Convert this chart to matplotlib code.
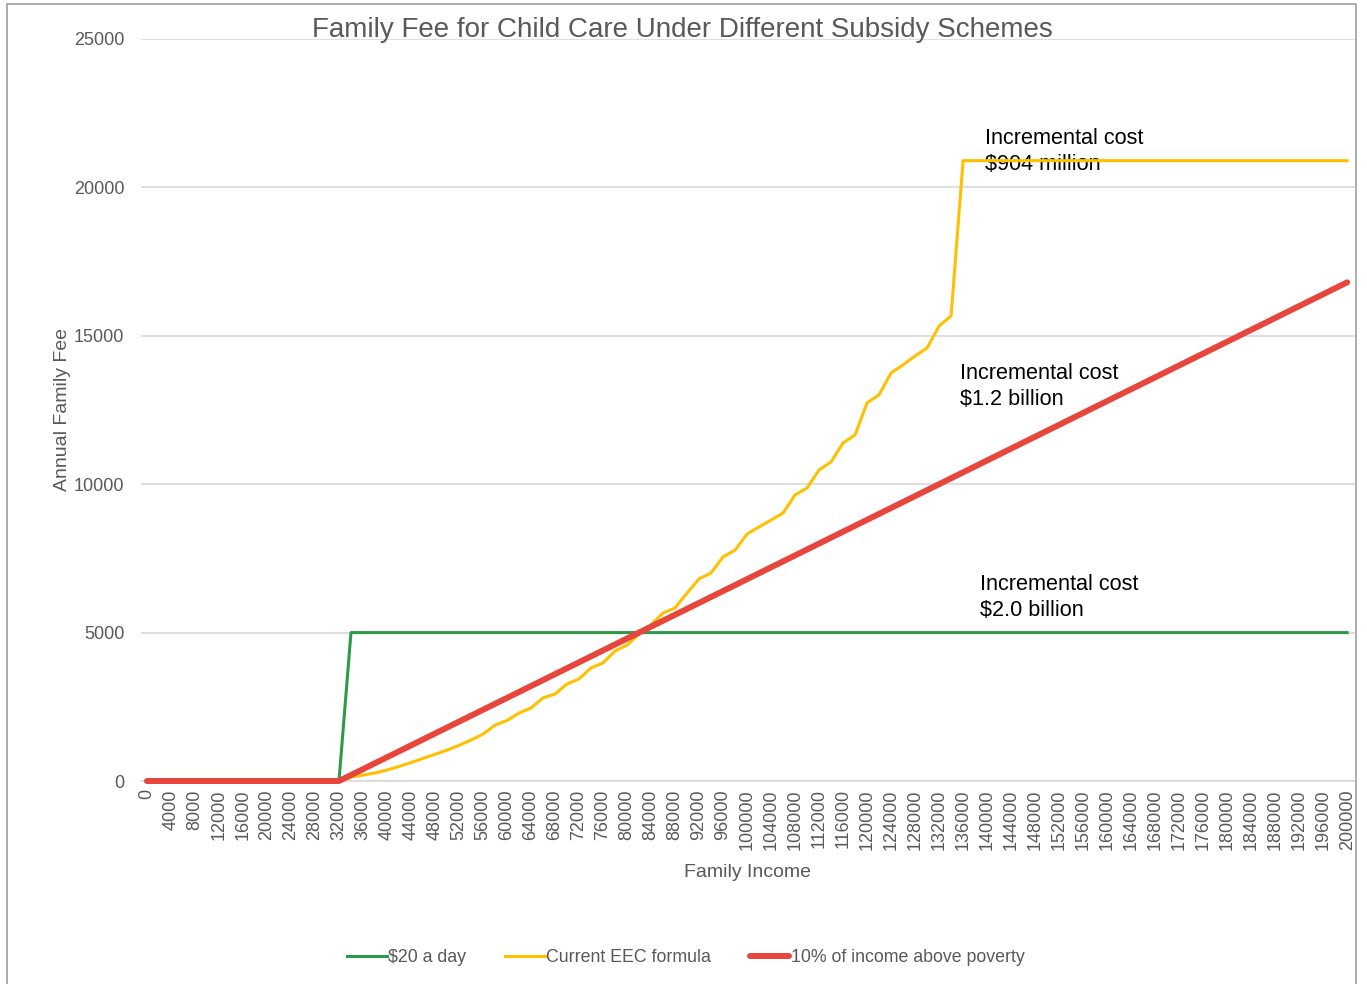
import matplotlib
matplotlib.use("Agg")
import matplotlib.pyplot as plt
from matplotlib.patches import Rectangle

plt.rcParams['font.family'] = ['Liberation Sans', 'DejaVu Sans']

# family income categories (one point every $2000)
income = list(range(0, 200001, 2000))

# $20 a day: flat fee once above the poverty line
flat_fee = [0] * 17 + [5000] * 84

# current EEC sliding-scale formula
eec_fee = [0] * 17 + [
    130, 200, 270, 370, 490, 620, 760, 900, 1040,
    1200, 1380, 1580, 1880, 2040, 2290, 2460, 2800, 2930, 3270,
    3440, 3810, 3980, 4380, 4580, 4950, 5260, 5660, 5830, 6330,
    6810, 7010, 7550, 7780, 8320,
    8560, 8790, 9030, 9640, 9870, 10480, 10750, 11390, 11660, 12740,
    13010, 13750, 14020, 14320, 14590, 15330, 15670,
] + [20900] * 33

# 10% of income above poverty
pct_fee = [0] * 17 + [
    200, 400, 600, 800, 1000, 1200, 1400, 1600, 1800, 2000,
    2200, 2400, 2600, 2800, 3000, 3200, 3400, 3600, 3800, 4000,
    4200, 4400, 4600, 4800, 5000, 5200, 5400, 5600, 5800, 6000,
    6200, 6400, 6600, 6800, 7000, 7200, 7400, 7600, 7800, 8000,
    8200, 8400, 8600, 8800, 9000, 9200, 9400, 9600, 9800, 10000,
    10200, 10400, 10600, 10800, 11000, 11200, 11400, 11600, 11800, 12000,
    12200, 12400, 12600, 12800, 13000, 13200, 13400, 13600, 13800, 14000,
    14200, 14400, 14600, 14800, 15000, 15200, 15400, 15600, 15800, 16000,
    16200, 16400, 16600, 16800,
]

tick_income = list(range(0, 200001, 4000))
y_ticks = [0, 5000, 10000, 15000, 20000, 25000]

notes = [
    (139700, 21200, "Incremental cost\n$904 million"),
    (135500, 13280, "Incremental cost\n$1.2 billion"),
    (138800, 6170, "Incremental cost\n$2.0 billion"),
]

grey = '#595959'

fig = plt.figure(figsize=(13.67, 9.84), dpi=100)
ax = fig.add_axes([0.1031, 0.2063, 0.8881, 0.7541])

ax.plot(income, flat_fee, color='#2e9a48', lw=2.2, label='$20 a day', clip_on=False, zorder=3)
ax.plot(income, eec_fee, color='#ffc000', lw=2.2, label='Current EEC formula', clip_on=False, zorder=4)
ax.plot(income, pct_fee, color='#e8453c', lw=4.3, label='10% of income above poverty',
        clip_on=False, zorder=5, solid_capstyle='round')

ax.set_xlim(-1000, 201300)
ax.set_ylim(0, 25000)
ax.set_yticks(y_ticks)
ax.set_yticklabels([str(v) for v in y_ticks], fontsize=13, color=grey)
ax.set_xticks(tick_income)
ax.set_xticklabels([str(v) for v in tick_income], rotation=90, fontsize=13, color=grey)
ax.tick_params(axis='both', length=0)
ax.tick_params(axis='y', pad=12)
ax.tick_params(axis='x', pad=6)

ax.grid(axis='y', color='#d9d9d9', lw=1.2)
ax.set_axisbelow(True)
for side in ['top', 'right', 'left']:
    ax.spines[side].set_visible(False)
ax.spines['bottom'].set_color('#d9d9d9')
ax.spines['bottom'].set_linewidth(1.2)

ax.set_xlabel('Family Income', fontsize=14, color=grey, labelpad=10)
ax.set_ylabel('Annual Family Fee', fontsize=14, color=grey, labelpad=2)

for x, y, txt in notes:
    ax.text(x, y, txt, fontsize=15.6, color='black', va='center', ha='left', linespacing=1.3)

fig.text(0.4993, 0.970, 'Family Fee for Child Care Under Different Subsidy Schemes',
         fontsize=20, color=grey, ha='center', va='center')

fig.legend(loc='center', bbox_to_anchor=(0.502, 0.027), ncol=3, frameon=False,
           fontsize=12.8, labelcolor=grey, handlelength=2.2, handletextpad=0.1,
           columnspacing=2.2)

# thin border round the chart area
fig.patches.append(Rectangle((0.005, -0.01), 0.987, 1.006, transform=fig.transFigure,
                             fill=False, edgecolor='#a0a0a0', lw=1.2))

fig.savefig('out.png', dpi=100)
